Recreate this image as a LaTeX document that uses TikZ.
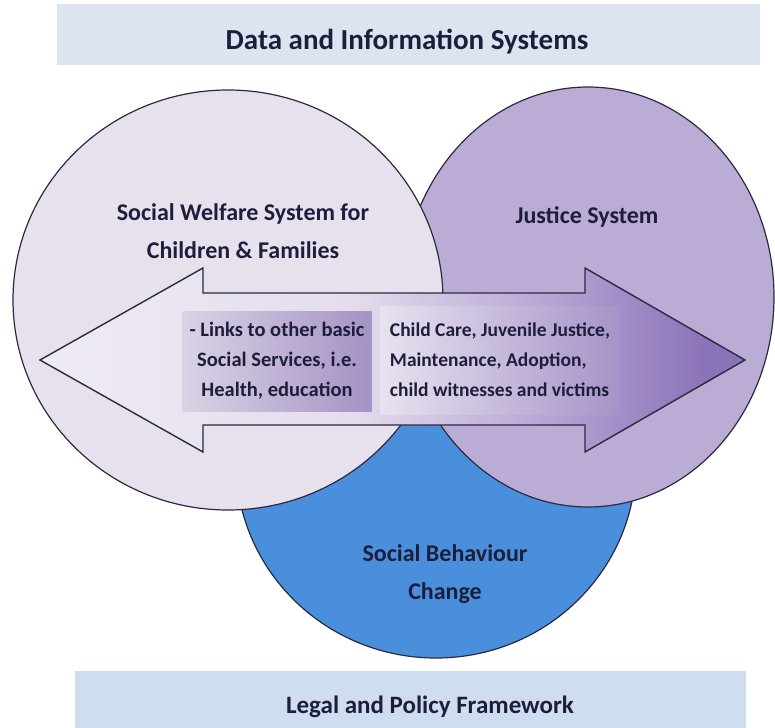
\documentclass[tikz,border=0pt]{standalone}
\usepackage{fontspec}
\setmainfont{Carlito}
\usetikzlibrary{shapes.geometric,positioning}

\definecolor{bandtop}{HTML}{DCE5EF}
\definecolor{bandbottom}{HTML}{CFDDF0}
\definecolor{welfarefill}{HTML}{E7E1EE}
\definecolor{justicefill}{HTML}{BBACD5}
\definecolor{justicelight}{HTML}{C8BEDF}
\definecolor{lensfill}{HTML}{D3CBE4}
\definecolor{behaviourfill}{HTML}{4A8FDB}
\definecolor{inktext}{HTML}{1E1E3C}
\definecolor{edgeink}{HTML}{2A2A40}
\definecolor{arrowA}{HTML}{EFEBF4}
\definecolor{arrowB}{HTML}{E4DDED}
\definecolor{arrowC}{HTML}{B3A1D3}
\definecolor{arrowD}{HTML}{8A74B8}
\definecolor{boxA}{HTML}{DAD3E5}
\definecolor{boxB}{HTML}{A592C5}
\definecolor{boxC}{HTML}{E8E2EF}
\definecolor{boxD}{HTML}{A693C9}

\pgfdeclarehorizontalshading{linkshade}{100bp}{color(0bp)=(arrowA); color(25bp)=(arrowA); color(47bp)=(arrowB); color(62bp)=(arrowC); color(72bp)=(arrowD); color(100bp)=(arrowD)}

\begin{document}
\begin{tikzpicture}[
    x=1pt, y=-1pt,
    band/.style={draw=none, inner sep=0pt},
    sphere/.style={ellipse, draw=edgeink, line width=1.2pt, inner sep=0pt},
    areatext/.style={align=center, text=inktext, font=\fontsize{24}{38}\selectfont\bfseries},
    bandtext/.style={text=inktext, font=\fontsize{25}{30}\selectfont\bfseries},
    linktext/.style={text=inktext, font=\fontsize{20.5}{30}\selectfont\bfseries, inner ysep=0pt}
]
\useasboundingbox (0,0) rectangle (775,727);

% Bands top and bottom
\node[band, fill=bandtop, minimum width=703pt, minimum height=61pt] (databand) at (408,35) {};
\node[band, fill=bandbottom, minimum width=671pt, minimum height=57pt] (legalband) at (410,699) {};

% The three systems
\node[sphere, fill=behaviourfill, minimum width=400pt, minimum height=392pt] (behaviour) at (436,462) {};
\node[sphere, fill=justicefill, minimum width=372pt, minimum height=420pt,
      path picture={\fill[justicelight] (420,60) rectangle (468,540);}] (justice) at (588,297) {};
\node[sphere, fill=welfarefill, minimum width=430pt, minimum height=420pt,
      path picture={\fill[lensfill] (588,297) ellipse [x radius=186pt, y radius=210pt];}] (welfare) at (228,300) {};

% Double arrow between the systems
\coordinate (tipL) at (40,360);
\coordinate (tipR) at (745,360);
\draw[edgeink, line width=1.4pt, shading=linkshade]
    (tipL) -- (203,268) -- (203,293) -- (585,293) -- (585,268) -- (tipR)
    -- (585,452) -- (585,425) -- (203,425) -- (203,452) -- cycle;

% Text boxes inside the arrow
\node[linktext, align=center, left color=boxA, right color=boxB,
      minimum width=189pt, minimum height=100pt] (links) at (277,361)
    {- Links to other basic\\Social Services, i.e.\\Health, education};
\node[linktext, font=\fontsize{19.5}{30}\selectfont\bfseries, align=left,
      left color=boxC, right color=boxD,
      minimum width=240pt, minimum height=108pt] (services) at (500,360)
    {Child Care, Juvenile Justice,\\Maintenance, Adoption,\\child witnesses and victims};

% Labels
\node[bandtext, font=\fontsize{29}{34}\selectfont\bfseries] (datatext) at (407,42) {Data and Information Systems};
\node[bandtext] (legaltext) at (430,707) {Legal and Policy Framework};
\node[areatext] (welfaretext) at (243,231) {Social Welfare System for\\Children \& Families};
\node[areatext] (justicetext) at (587,217) {Justice System};
\node[areatext] (behaviourtext) at (445,574) {Social Behaviour\\Change};

\end{tikzpicture}
\end{document}
